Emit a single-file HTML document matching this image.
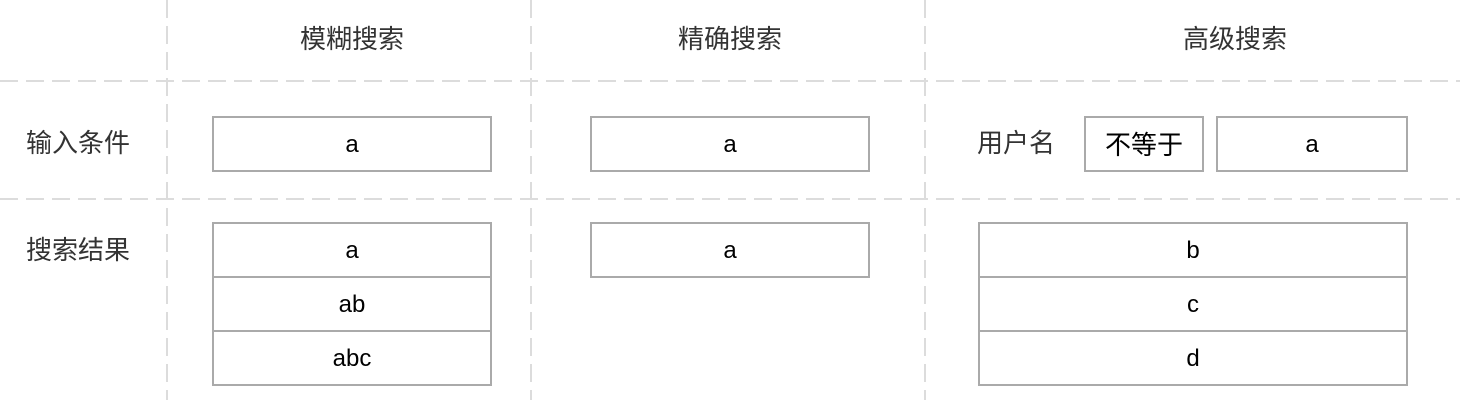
<!DOCTYPE html>
<html><head><meta charset="utf-8"><style>html,body{margin:0;padding:0;background:#fff}</style></head>
<body>
<svg width="1460" height="400" xmlns="http://www.w3.org/2000/svg" font-family="Liberation Sans, Noto Sans CJK SC, sans-serif">
<g stroke="#dcdcdc" stroke-width="2" stroke-dasharray="18,8">
<line x1="167" y1="0" x2="167" y2="400"/>
<line x1="531" y1="0" x2="531" y2="400"/>
<line x1="925" y1="0" x2="925" y2="400"/>
<line x1="0" y1="81" x2="1460" y2="81"/>
<line x1="0" y1="199" x2="1460" y2="199"/>
</g>
<g font-size="26" fill="#333" text-anchor="middle">
<text x="352" y="48">模糊搜索</text>
<text x="730" y="48">精确搜索</text>
<text x="1235" y="48">高级搜索</text>
</g>
<g font-size="26" fill="#333">
<text x="26" y="152">输入条件</text>
<text x="26" y="259">搜索结果</text>
<text x="977" y="152">用户名</text>
</g>
<g fill="none" stroke="#aaa" stroke-width="2">
<rect x="213" y="117" width="278" height="54"/>
<rect x="591" y="117" width="278" height="54"/>
<rect x="1085" y="117" width="118" height="54"/>
<rect x="1217" y="117" width="190" height="54"/>
<rect x="213" y="223" width="278" height="54"/>
<rect x="213" y="277" width="278" height="54"/>
<rect x="213" y="331" width="278" height="54"/>
<rect x="591" y="223" width="278" height="54"/>
<rect x="979" y="223" width="428" height="54"/>
<rect x="979" y="277" width="428" height="54"/>
<rect x="979" y="331" width="428" height="54"/>
</g>
<g font-size="24" fill="#000" text-anchor="middle">
<text x="352" y="152">a</text>
<text x="730" y="152">a</text>
<text x="1144" y="154" font-size="26">不等于</text>
<text x="1312" y="152">a</text>
<text x="352" y="258">a</text>
<text x="352" y="312">ab</text>
<text x="352" y="366">abc</text>
<text x="730" y="258">a</text>
<text x="1193" y="258">b</text>
<text x="1193" y="312">c</text>
<text x="1193" y="366">d</text>
</g>
</svg>
</body></html>
